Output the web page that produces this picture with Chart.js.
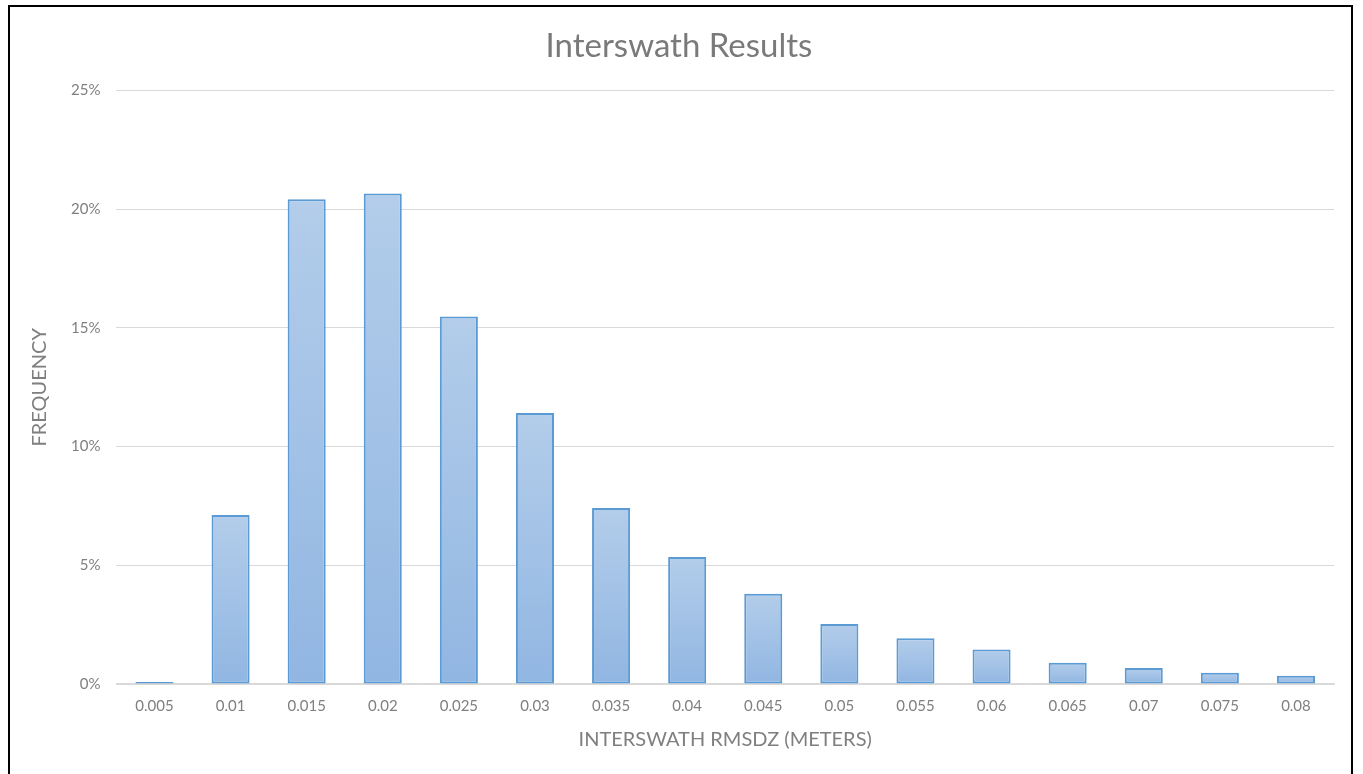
<!DOCTYPE html>
<html>
<head>
<meta charset="utf-8">
<script src="https://cdn.jsdelivr.net/npm/chart.js@4.4.0/dist/chart.umd.min.js"></script>
<style>
  body { margin: 0; background: #fff; }
  #frame { position: absolute; left: 8px; top: 5px; width: 1345px; height: 790px; border: 2px solid #000; box-sizing: border-box; }
  #wrap { position: absolute; left: 0; top: 0; width: 1363px; height: 774px; }
</style>
</head>
<body>
<div id="frame"></div>
<div id="wrap"><canvas id="graph"></canvas></div>
<script>
// bins (meters) and frequency in %
const bins = ['0.005','0.01','0.015','0.02','0.025','0.03','0.035','0.04','0.045','0.05','0.055','0.06','0.065','0.07','0.075','0.08'];
const frequency = [0.08, 7.12, 20.42, 20.66, 15.48, 11.42, 7.42, 5.35, 3.8, 2.53, 1.93, 1.45, 0.9, 0.67, 0.47, 0.35];
const yTicks = [0, 5, 10, 15, 20, 25];

const ctx = document.getElementById("graph").getContext("2d");

// each bar gets its own light-to-dark gradient, like the excel fill
function barFill(context){
  const chart = context.chart;
  if (!chart.chartArea || context.parsed === undefined) return '#a3c1e6';
  const y = chart.scales.y;
  const top = y.getPixelForValue(context.parsed.y);
  const bottom = y.getPixelForValue(0);
  if (bottom - top < 1) return '#9dbde5';
  const g = chart.ctx.createLinearGradient(0, top, 0, bottom);
  g.addColorStop(0, '#b3cdea');
  g.addColorStop(1, '#91b6e2');
  return g;
}

const config_graph = {
  type: 'bar',
  data: {
    labels: bins,
    datasets: [{
      label: 'Frequency',
      data: frequency,
      backgroundColor: barFill,
      borderColor: '#5b9bd5',
      borderWidth: 2,
      borderSkipped: false,
      barPercentage: 0.5,
      categoryPercentage: 1.0
    }]
  },
  options: {
    responsive: false,
    animation: false,
    layout: { padding: { left: 24, right: 29, top: 20, bottom: 18 } },
    plugins: {
      legend: { display: false },
      tooltip: { enabled: false },
      title: {
        display: true,
        text: 'Interswath Results',
        color: '#7a7a7a',
        font: { family: 'Lato', size: 33, weight: 'normal' },
        padding: { top: 7, bottom: 24 }
      }
    },
    scales: {
      x: {
        grid: { display: false, drawTicks: false },
        border: { color: '#d9d9d9', width: 1.5 },
        ticks: { color: '#7f7f7f', font: { family: 'Lato', size: 15 }, padding: 13, maxRotation: 0 },
        title: {
          display: true,
          text: 'INTERSWATH RMSDZ (METERS)',
          color: '#7f7f7f',
          font: { family: 'Lato', size: 20 },
          padding: { top: 0, bottom: 4 }
        }
      },
      y: {
        min: 0,
        max: 25,
        afterBuildTicks: (axis) => { axis.ticks = yTicks.map(v => ({ value: v })); },
        grid: { color: '#d9d9d9', drawTicks: false },
        border: { display: false },
        ticks: {
          color: '#7f7f7f',
          font: { family: 'Lato', size: 15 },
          padding: 16,
          callback: (v) => v + '%'
        },
        title: {
          display: true,
          text: 'FREQUENCY',
          color: '#7f7f7f',
          font: { family: 'Lato', size: 20 },
          padding: { top: 4, bottom: 3 }
        }
      }
    }
  }
};

const canvas = document.getElementById("graph");
canvas.width = 1363;
canvas.height = 774;
let graph1 = new Chart(ctx, config_graph);
</script>
</body>
</html>
